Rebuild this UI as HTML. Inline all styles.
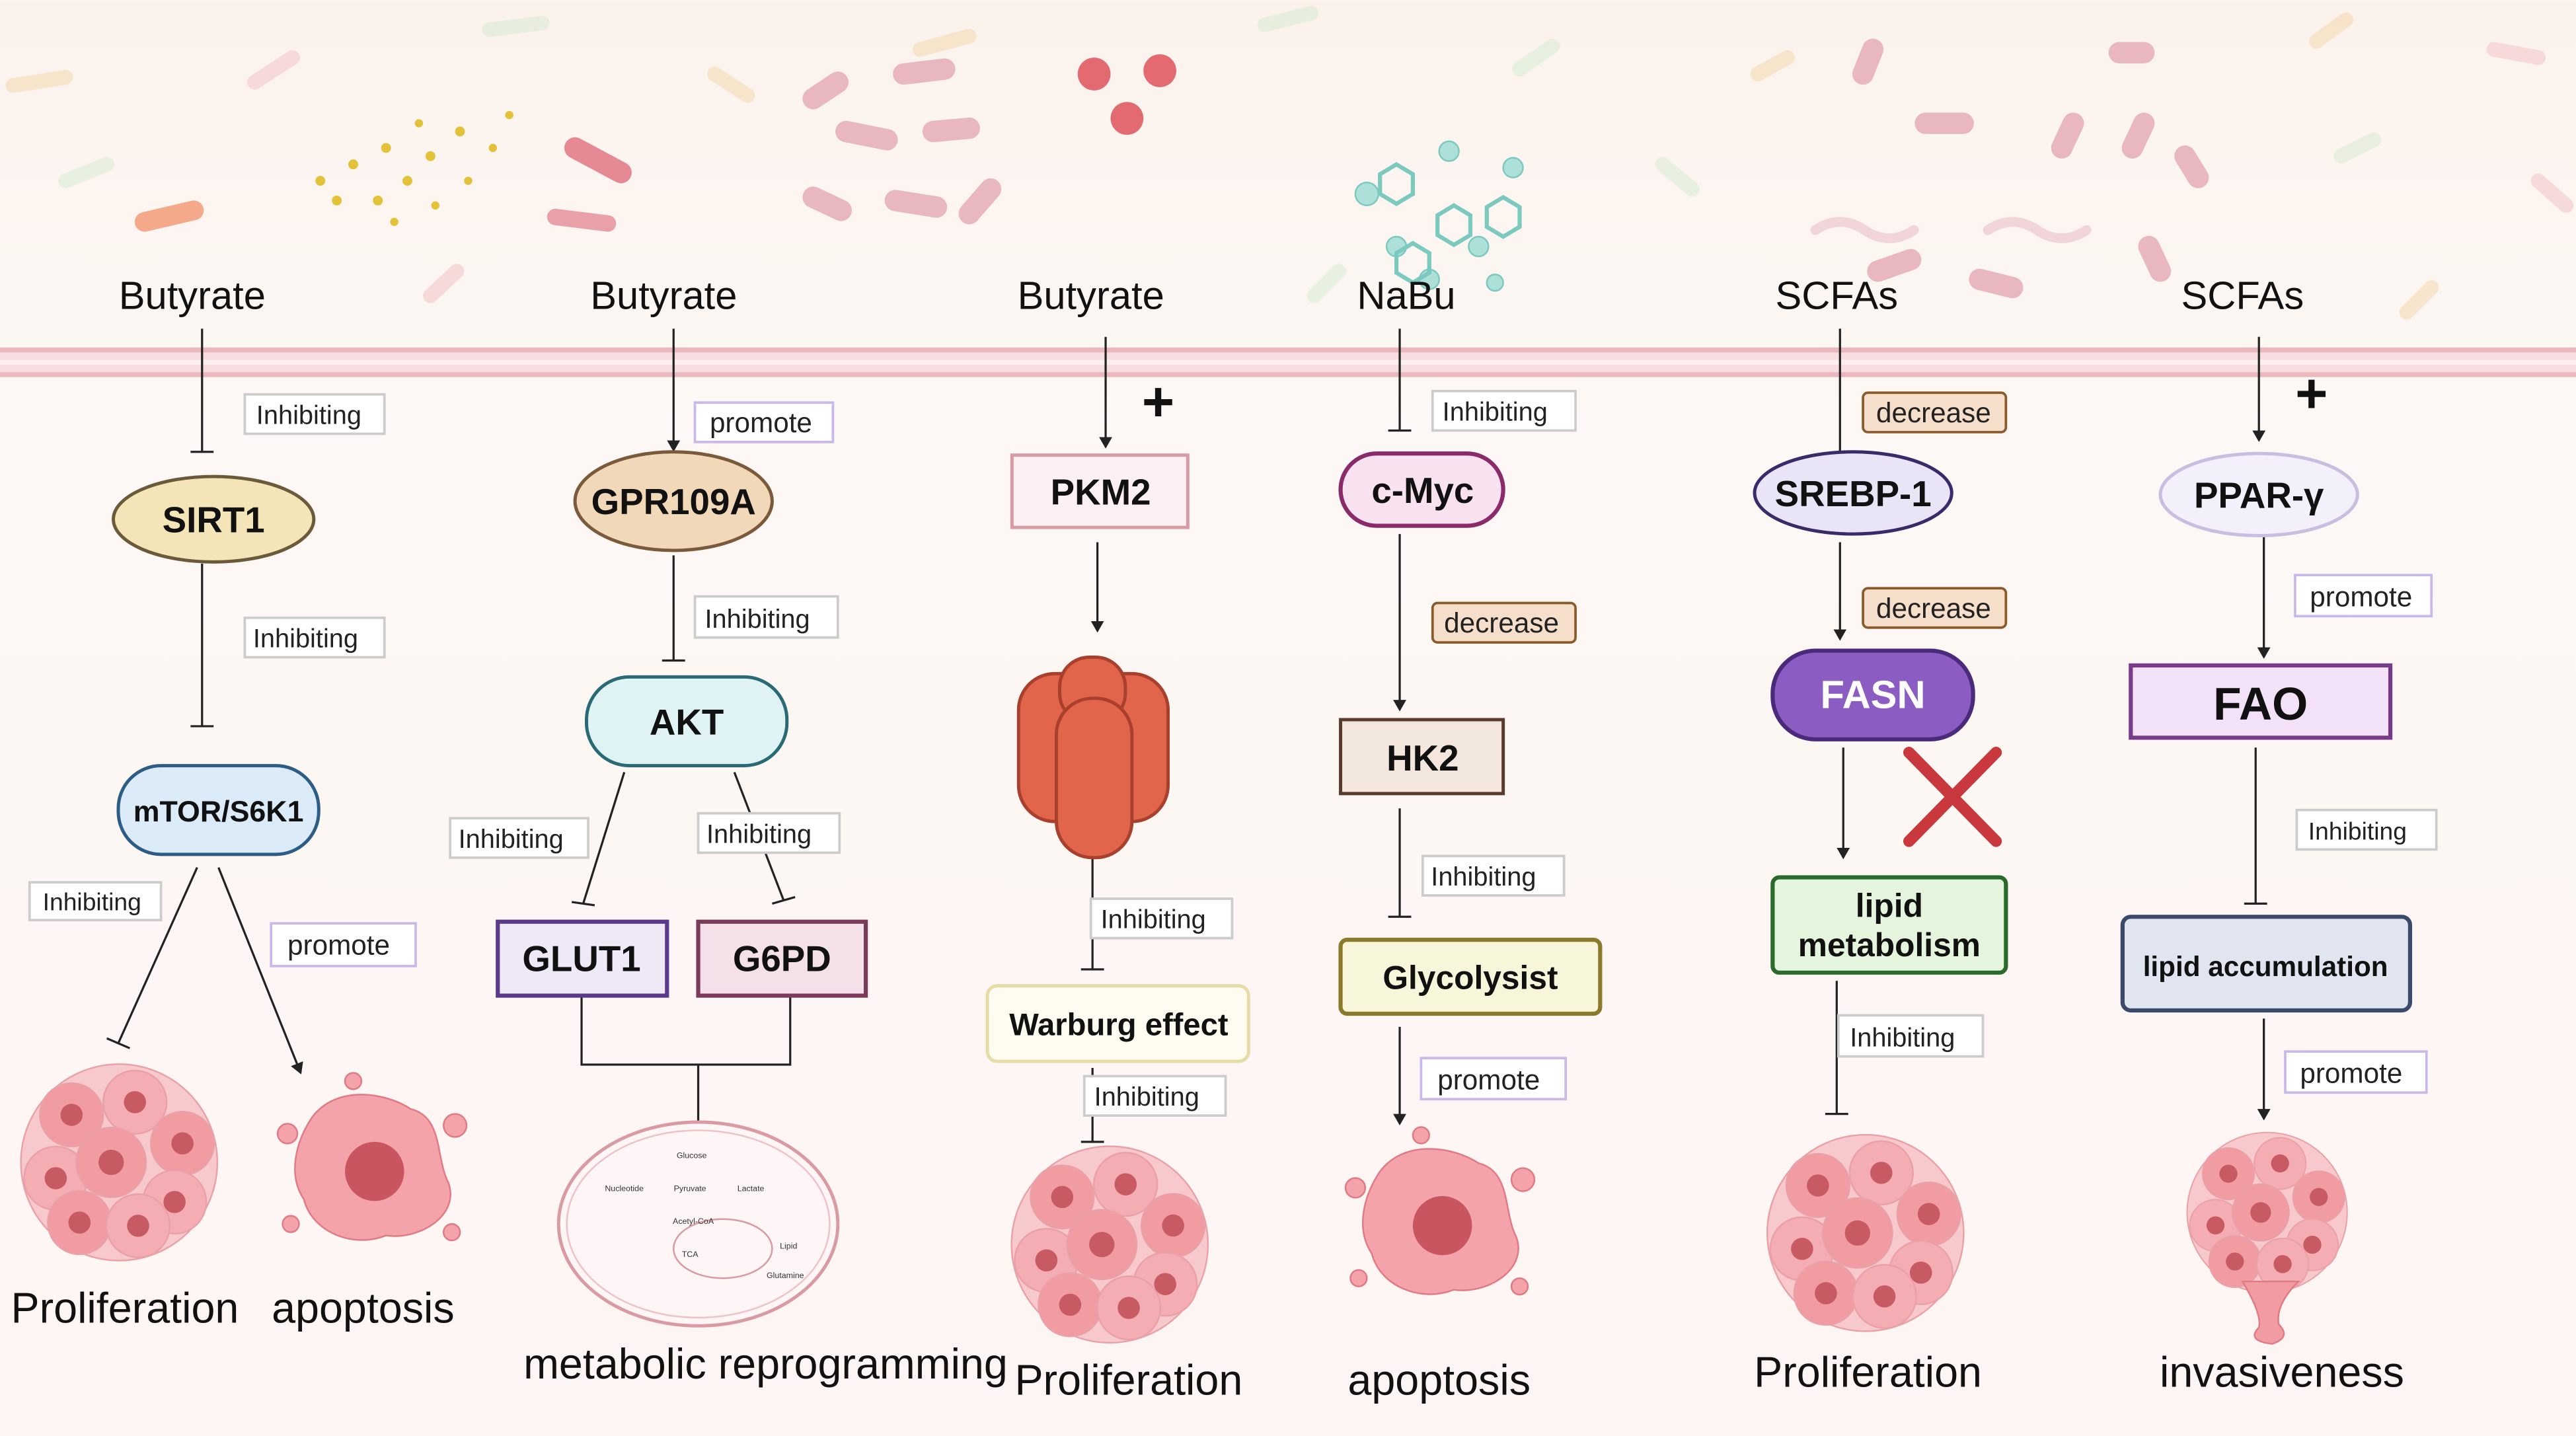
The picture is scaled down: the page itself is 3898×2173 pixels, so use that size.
<!DOCTYPE html>
<html><head><meta charset="utf-8">
<style>
html,body{margin:0;padding:0;width:3898px;height:2173px;overflow:hidden;background:#fff}
svg{display:block}
text{font-family:"Liberation Sans",sans-serif}
</style></head>
<body>
<svg width="3898" height="2173" viewBox="0 0 1568 874" xmlns="http://www.w3.org/2000/svg">
<defs>
<linearGradient id="bg" x1="0" y1="0" x2="0" y2="1">
<stop offset="0" stop-color="#fbf2ec"/><stop offset="0.3" stop-color="#fdf8f5"/><stop offset="1" stop-color="#fdf5f3"/>
</linearGradient>
<marker id="ar" markerWidth="8" markerHeight="8" refX="6" refY="4" orient="auto" markerUnits="userSpaceOnUse"><path d="M0,0 L7,4 L0,8 z" fill="#222"/></marker>
<symbol id="cl" viewBox="-70 -70 140 140">
<g stroke="#e9a0a6" stroke-width="1">
<circle cx="0" cy="0" r="62" fill="#f7c9cc"/>
<circle cx="-30" cy="-30" r="20" fill="#f19ca3"/><circle cx="10" cy="-38" r="20" fill="#f4adb2"/><circle cx="40" cy="-12" r="20" fill="#f19ca3"/>
<circle cx="-40" cy="10" r="20" fill="#f4adb2"/><circle cx="-5" cy="0" r="22" fill="#f19ca3"/><circle cx="35" cy="25" r="20" fill="#f4adb2"/>
<circle cx="-25" cy="38" r="20" fill="#f19ca3"/><circle cx="12" cy="40" r="20" fill="#f4adb2"/>
</g>
<g fill="#c85a64">
<circle cx="-30" cy="-30" r="7"/><circle cx="10" cy="-38" r="7"/><circle cx="40" cy="-12" r="7"/><circle cx="-40" cy="10" r="7"/>
<circle cx="-5" cy="0" r="8"/><circle cx="35" cy="25" r="7"/><circle cx="-25" cy="38" r="7"/><circle cx="12" cy="40" r="7"/>
</g>
</symbol>
<symbol id="ap" viewBox="-60 -60 120 120">
<path d="M-35,-30 C-20,-50 10,-45 25,-35 C45,-30 40,-5 48,10 C55,30 30,45 10,42 C-10,50 -35,40 -40,20 C-50,5 -45,-15 -35,-30 z" fill="#f4a3aa" stroke="#e07b86"/>
<circle cx="3" cy="3" r="18" fill="#c95560"/>
<circle cx="-50" cy="-20" r="6" fill="#f4a3aa" stroke="#e07b86"/><circle cx="52" cy="-25" r="7" fill="#f4a3aa" stroke="#e07b86"/>
<circle cx="-48" cy="35" r="5" fill="#f4a3aa" stroke="#e07b86"/><circle cx="50" cy="40" r="5" fill="#f4a3aa" stroke="#e07b86"/>
<circle cx="-10" cy="-52" r="5" fill="#f4a3aa" stroke="#e07b86"/>
</symbol>
</defs>
<rect width="1568" height="874" fill="url(#bg)"/>

<!-- decorative bacteria -->
<g opacity="0.55" stroke-linecap="round">
<line x1="8" y1="52" x2="40" y2="47" stroke="#f3d8b0" stroke-width="9"/>
<line x1="155" y1="50" x2="178" y2="35" stroke="#f2c4c8" stroke-width="9"/>
<line x1="298" y1="18" x2="330" y2="14" stroke="#d8ecd4" stroke-width="9"/>
<line x1="435" y1="45" x2="455" y2="58" stroke="#f3d8b0" stroke-width="9"/>
<line x1="560" y1="30" x2="590" y2="22" stroke="#f3d8b0" stroke-width="9"/>
<line x1="770" y1="15" x2="798" y2="8" stroke="#d8ecd4" stroke-width="9"/>
<line x1="925" y1="42" x2="945" y2="28" stroke="#d8ecd4" stroke-width="9"/>
<line x1="1070" y1="45" x2="1088" y2="35" stroke="#f3d8b0" stroke-width="9"/>
<line x1="1410" y1="25" x2="1428" y2="12" stroke="#f3d8b0" stroke-width="9"/>
<line x1="1518" y1="30" x2="1545" y2="35" stroke="#f2c4c8" stroke-width="9"/>
<line x1="1425" y1="95" x2="1445" y2="85" stroke="#d8ecd4" stroke-width="9"/>
<line x1="1465" y1="190" x2="1480" y2="175" stroke="#f3d8b0" stroke-width="9"/>
<line x1="1012" y1="100" x2="1030" y2="115" stroke="#d8ecd4" stroke-width="9"/>
<line x1="262" y1="180" x2="278" y2="165" stroke="#f2c4c8" stroke-width="9"/>
<line x1="800" y1="180" x2="815" y2="165" stroke="#d8ecd4" stroke-width="9"/>
<line x1="1545" y1="110" x2="1562" y2="125" stroke="#f2c4c8" stroke-width="9"/>
<line x1="40" y1="110" x2="65" y2="100" stroke="#d8ecd4" stroke-width="9"/>
</g>
<g stroke-linecap="round">
<line x1="88" y1="135" x2="118" y2="128" stroke="#f4a98a" stroke-width="12"/>
<line x1="350" y1="90" x2="378" y2="105" stroke="#e58a94" stroke-width="13"/>
<line x1="338" y1="132" x2="370" y2="136" stroke="#e9a0a8" stroke-width="10"/>
<g stroke="#e9b7bf" stroke-width="13">
<line x1="495" y1="60" x2="510" y2="50"/><line x1="550" y1="45" x2="575" y2="42"/><line x1="515" y1="80" x2="540" y2="85"/>
<line x1="568" y1="80" x2="590" y2="78"/><line x1="495" y1="120" x2="512" y2="128"/><line x1="545" y1="122" x2="570" y2="126"/><line x1="590" y1="130" x2="603" y2="115"/>
<line x1="1134" y1="45" x2="1140" y2="30"/><line x1="1172" y1="75" x2="1195" y2="75"/><line x1="1255" y1="90" x2="1262" y2="75"/>
<line x1="1290" y1="32" x2="1305" y2="32"/><line x1="1298" y1="90" x2="1305" y2="75"/><line x1="1330" y1="95" x2="1338" y2="108"/>
<line x1="1143" y1="165" x2="1163" y2="158"/><line x1="1205" y1="170" x2="1225" y2="175"/><line x1="1308" y1="150" x2="1315" y2="165"/>
</g>
<g stroke="#f1d5d8" stroke-width="6" fill="none">
<path d="M1105,140 q15,-10 30,0 t30,0"/><path d="M1210,140 q15,-10 30,0 t30,0"/>
</g>
</g>
<g fill="#e3c23a">
<circle cx="195" cy="110" r="3"/><circle cx="215" cy="100" r="3"/><circle cx="235" cy="90" r="3"/><circle cx="248" cy="110" r="3"/><circle cx="262" cy="95" r="3"/>
<circle cx="280" cy="80" r="3"/><circle cx="300" cy="90" r="2.5"/><circle cx="230" cy="122" r="3"/><circle cx="205" cy="122" r="3"/><circle cx="265" cy="125" r="2.5"/>
<circle cx="285" cy="110" r="2.5"/><circle cx="255" cy="75" r="2.5"/><circle cx="310" cy="70" r="2.5"/><circle cx="240" cy="135" r="2.5"/>
</g>
<g fill="#e46a72"><circle cx="666" cy="45" r="10"/><circle cx="706" cy="43" r="10"/><circle cx="686" cy="72" r="10"/></g>
<g fill="#aee0da" stroke="#7cc9c0">
<circle cx="882" cy="92" r="6"/><circle cx="921" cy="102" r="6"/><circle cx="832" cy="118" r="7"/><circle cx="850" cy="150" r="6"/><circle cx="900" cy="150" r="6"/><circle cx="910" cy="172" r="5"/><circle cx="870" cy="170" r="6"/>
</g>
<g fill="none" stroke="#7cc9c0" stroke-width="2.5">
<path d="M850,100 l10,6 v12 l-10,6 l-10,-6 v-12 z"/><path d="M885,125 l10,6 v12 l-10,6 l-10,-6 v-12 z"/><path d="M915,120 l10,6 v12 l-10,6 l-10,-6 v-12 z"/><path d="M860,148 l10,6 v12 l-10,6 l-10,-6 v-12 z"/>
</g>

<!-- membrane -->
<rect x="0" y="212" width="1568" height="17" fill="#f8dde0"/>
<line x1="0" y1="213" x2="1568" y2="213" stroke="#eab7bd" stroke-width="3"/>
<line x1="0" y1="228" x2="1568" y2="228" stroke="#eab7bd" stroke-width="3"/>
<line x1="0" y1="220.5" x2="1568" y2="220.5" stroke="#fbeff0" stroke-width="3"/>

<g font-size="24" fill="#111" text-anchor="middle">
<text x="117" y="188">Butyrate</text><text x="404" y="188">Butyrate</text><text x="664" y="188">Butyrate</text>
<text x="856" y="188">NaBu</text><text x="1118" y="188">SCFAs</text><text x="1365" y="188">SCFAs</text>
</g>

<!-- connectors -->
<g stroke="#222" stroke-width="1.3" fill="none">
<line x1="123" y1="200" x2="123" y2="275"/><line x1="116" y1="275" x2="130" y2="275"/>
<line x1="123" y1="343" x2="123" y2="442"/><line x1="116" y1="442" x2="130" y2="442"/>
<line x1="120" y1="528" x2="72" y2="635"/><line x1="65" y1="632" x2="79" y2="638"/>
<line x1="133" y1="528" x2="183" y2="653" marker-end="url(#ar)"/>
<line x1="410" y1="200" x2="410" y2="274" marker-end="url(#ar)"/>
<line x1="410" y1="338" x2="410" y2="402"/><line x1="403" y1="402" x2="417" y2="402"/>
<line x1="380" y1="470" x2="355" y2="550"/><line x1="348" y1="549" x2="362" y2="551"/>
<line x1="447" y1="470" x2="477" y2="548"/><line x1="470" y1="550" x2="484" y2="546"/>
<path d="M354,606 V648 H481 V606 M425,648 V690"/>
<line x1="673" y1="205" x2="673" y2="272" marker-end="url(#ar)"/>
<line x1="668" y1="330" x2="668" y2="384" marker-end="url(#ar)"/>
<line x1="665" y1="520" x2="665" y2="590"/><line x1="658" y1="590" x2="672" y2="590"/>
<line x1="665" y1="650" x2="665" y2="695"/><line x1="658" y1="695" x2="672" y2="695"/>
<line x1="852" y1="200" x2="852" y2="262"/><line x1="845" y1="262" x2="859" y2="262"/>
<line x1="852" y1="325" x2="852" y2="432" marker-end="url(#ar)"/>
<line x1="852" y1="492" x2="852" y2="558"/><line x1="845" y1="558" x2="859" y2="558"/>
<line x1="852" y1="625" x2="852" y2="684" marker-end="url(#ar)"/>
<line x1="1120" y1="200" x2="1120" y2="295" marker-end="url(#ar)"/>
<line x1="1120" y1="330" x2="1120" y2="389" marker-end="url(#ar)"/>
<line x1="1122" y1="455" x2="1122" y2="522" marker-end="url(#ar)"/>
<line x1="1118" y1="597" x2="1118" y2="678"/><line x1="1111" y1="678" x2="1125" y2="678"/>
<line x1="1375" y1="205" x2="1375" y2="268" marker-end="url(#ar)"/>
<line x1="1378" y1="325" x2="1378" y2="400" marker-end="url(#ar)"/>
<line x1="1373" y1="455" x2="1373" y2="550"/><line x1="1366" y1="550" x2="1380" y2="550"/>
<line x1="1378" y1="620" x2="1378" y2="681" marker-end="url(#ar)"/>
</g>
<g font-size="34" fill="#111" font-weight="bold" text-anchor="middle"><text x="705" y="256">+</text><text x="1407" y="251">+</text></g>

<!-- label boxes -->
<g font-size="16" fill="#222">
<g fill="#fff" stroke="#ccc" stroke-width="1.5">
<rect x="149" y="240" width="85" height="24"/><rect x="149" y="376" width="85" height="24"/><rect x="18" y="537" width="80" height="23"/>
<rect x="423" y="363" width="87" height="25"/><rect x="274" y="498" width="84" height="24"/><rect x="425" y="495" width="86" height="24"/>
<rect x="664" y="547" width="86" height="24"/><rect x="660" y="655" width="86" height="24"/>
<rect x="872" y="238" width="87" height="24"/><rect x="866" y="521" width="86" height="24"/>
<rect x="1119" y="618" width="88" height="25"/><rect x="1398" y="493" width="85" height="24"/>
</g>
<g fill="#fff" stroke="#c9b8ea" stroke-width="1.5">
<rect x="165" y="562" width="88" height="26"/><rect x="423" y="245" width="84" height="24"/><rect x="865" y="644" width="88" height="25"/>
<rect x="1397" y="350" width="83" height="25"/><rect x="1391" y="640" width="86" height="25"/>
</g>
<g fill="#f6dfca" stroke="#8a5a2a" stroke-width="1.5">
<rect x="872" y="367" width="87" height="24" rx="3"/><rect x="1134" y="239" width="87" height="24" rx="3"/><rect x="1134" y="358" width="87" height="24" rx="3"/>
</g>
<text x="156" y="258">Inhibiting</text><text x="154" y="394">Inhibiting</text><text x="26" y="554" font-size="15">Inhibiting</text>
<text x="429" y="382">Inhibiting</text><text x="279" y="516">Inhibiting</text><text x="430" y="513">Inhibiting</text>
<text x="670" y="565">Inhibiting</text><text x="666" y="673">Inhibiting</text>
<text x="878" y="256">Inhibiting</text><text x="871" y="539">Inhibiting</text>
<text x="1126" y="637">Inhibiting</text><text x="1405" y="511" font-size="15">Inhibiting</text>
<text x="175" y="581" font-size="17">promote</text><text x="432" y="263" font-size="17">promote</text><text x="875" y="663" font-size="17">promote</text>
<text x="1406" y="369" font-size="17">promote</text><text x="1400" y="659" font-size="17">promote</text>
<text x="879" y="385" font-size="17">decrease</text><text x="1142" y="257" font-size="17">decrease</text><text x="1142" y="376" font-size="17">decrease</text>
</g>

<!-- nodes -->
<g stroke-width="2">
<ellipse cx="130" cy="316" rx="61" ry="26" fill="#f4e5b9" stroke="#6b5a3a"/>
<rect x="72" y="466" width="122" height="54" rx="26" fill="#dcebf8" stroke="#2d5c84"/>
<ellipse cx="410" cy="305" rx="60" ry="30" fill="#f1d8b9" stroke="#7a5a3a"/>
<rect x="357" y="412" width="122" height="54" rx="26" fill="#dff2f4" stroke="#2a6a75"/>
<rect x="303" y="561" width="103" height="45" fill="#efe8f6" stroke="#5a3a8a" stroke-width="2.5"/>
<rect x="425" y="561" width="102" height="45" fill="#f3e0e8" stroke="#7a3a5a" stroke-width="2.5"/>
<rect x="616" y="277" width="107" height="44" fill="#fcf0f2" stroke="#d89aa5"/>
<rect x="601" y="600" width="159" height="46" rx="6" fill="#fefcf0" stroke="#e6dca6"/>
<rect x="816" y="276" width="99" height="44" rx="22" fill="#f8e2f0" stroke="#8a2a6a" stroke-width="2.5"/>
<rect x="816" y="438" width="99" height="45" fill="#f3e7dd" stroke="#5a3a2a"/>
<rect x="816" y="572" width="158" height="45" rx="4" fill="#f7f5da" stroke="#8a7a2a" stroke-width="2.5"/>
<ellipse cx="1128" cy="300" rx="60" ry="25" fill="#e9e5f7" stroke="#3a2a6a"/>
<rect x="1079" y="396" width="122" height="54" rx="26" fill="#8b5cc2" stroke="#4a2a7a" stroke-width="2.5"/>
<rect x="1079" y="534" width="142" height="58" rx="4" fill="#e5f5dd" stroke="#2a6a2a" stroke-width="2.5"/>
<ellipse cx="1375" cy="301" rx="60" ry="25" fill="#f4f0fb" stroke="#c9bde0"/>
<rect x="1297" y="405" width="158" height="44" fill="#f3e2f7" stroke="#7a3a8a" stroke-width="2.5"/>
<rect x="1292" y="558" width="175" height="57" rx="5" fill="#e0e5ef" stroke="#3a4a6a" stroke-width="2.5"/>
</g>
<g font-weight="bold" fill="#111" text-anchor="middle" font-size="22">
<text x="130" y="324">SIRT1</text><text x="133" y="500" font-size="18">mTOR/S6K1</text>
<text x="410" y="313">GPR109A</text><text x="418" y="447">AKT</text>
<text x="354" y="591">GLUT1</text><text x="476" y="591">G6PD</text>
<text x="670" y="307">PKM2</text><text x="681" y="630" font-size="19">Warburg effect</text>
<text x="866" y="306">c-Myc</text><text x="866" y="469">HK2</text><text x="895" y="602" font-size="20">Glycolysist</text>
<text x="1128" y="308">SREBP-1</text><text x="1140" y="431" fill="#fff" font-size="24">FASN</text>
<text x="1150" y="558" font-size="20">lipid</text><text x="1150" y="582" font-size="20">metabolism</text>
<text x="1375" y="309">PPAR-γ</text><text x="1376" y="438" font-size="28">FAO</text>
<text x="1379" y="594" font-size="17">lipid accumulation</text>
</g>

<!-- red X -->
<g stroke="#c8383c" stroke-width="7" stroke-linecap="round"><line x1="1162" y1="458" x2="1215" y2="512"/><line x1="1215" y1="458" x2="1162" y2="512"/></g>

<!-- mitochondria cluster -->
<g fill="#e0654a" stroke="#a9402e" stroke-width="2">
<rect x="620" y="410" width="48" height="90" rx="22"/><rect x="663" y="410" width="48" height="90" rx="22"/>
<rect x="645" y="400" width="40" height="40" rx="18"/><rect x="643" y="425" width="46" height="97" rx="22"/>
</g>

<!-- cells -->
<use href="#cl" x="5" y="640" width="135" height="135"/>
<use href="#ap" x="165" y="650" width="120" height="120"/>
<use href="#cl" x="608" y="690" width="135" height="135"/>
<use href="#ap" x="815" y="683" width="120" height="120"/>
<use href="#cl" x="1068" y="683" width="135" height="135"/>
<g>
<use href="#cl" x="1325" y="683" width="110" height="110"/>
<path d="M1365,780 q12,20 10,28 q-8,8 8,10 q12,-4 4,-12 q-2,-12 12,-26 z" fill="#f19ca3" stroke="#e07b86"/>
</g>

<!-- metabolism cell -->
<ellipse cx="425" cy="745" rx="85" ry="62" fill="#fdf5f6" stroke="#d99aa2" stroke-width="2"/>
<ellipse cx="425" cy="745" rx="80" ry="57" fill="none" stroke="#eec2c7" stroke-width="1"/>
<ellipse cx="440" cy="760" rx="30" ry="18" fill="none" stroke="#d99aa2" stroke-width="1"/>
<g font-size="5" fill="#333" text-anchor="middle">
<text x="421" y="705">Glucose</text><text x="380" y="725">Nucleotide</text><text x="420" y="725">Pyruvate</text><text x="457" y="725">Lactate</text>
<text x="422" y="745">Acetyl-CoA</text><text x="420" y="765">TCA</text><text x="480" y="760">Lipid</text><text x="478" y="778">Glutamine</text>
</g>

<!-- bottom labels -->
<g font-size="26" fill="#111" text-anchor="middle">
<text x="76" y="805">Proliferation</text><text x="221" y="805">apoptosis</text>
<text x="466" y="839">metabolic reprogramming</text>
<text x="687" y="849">Proliferation</text><text x="876" y="849">apoptosis</text>
<text x="1137" y="844">Proliferation</text><text x="1389" y="844">invasiveness</text>
</g>
</svg>
</body></html>
